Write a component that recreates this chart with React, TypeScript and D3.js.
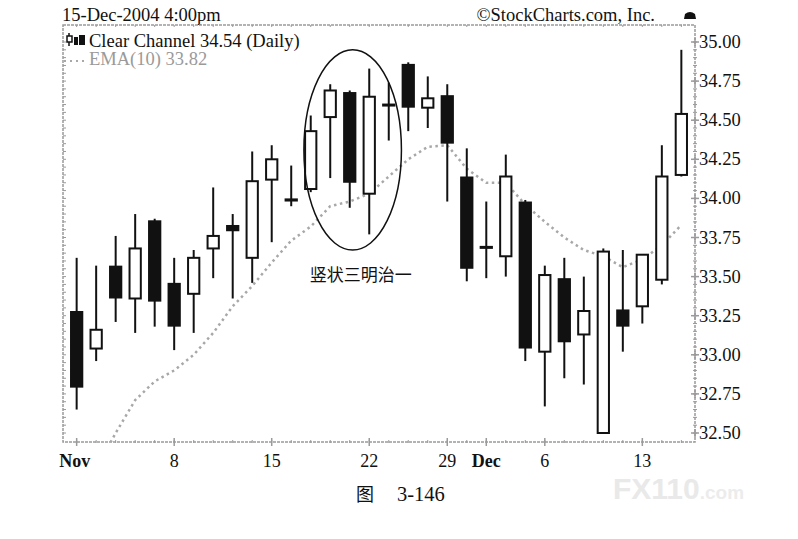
import React from 'react';
import * as d3 from 'd3';

// Daily candles, Clear Channel, Nov 1 - Dec 15 2004
const dates = [
  '2004-11-01', '2004-11-02', '2004-11-03', '2004-11-04', '2004-11-05',
  '2004-11-08', '2004-11-09', '2004-11-10', '2004-11-11', '2004-11-12',
  '2004-11-15', '2004-11-16', '2004-11-17', '2004-11-18', '2004-11-19',
  '2004-11-22', '2004-11-23', '2004-11-24', '2004-11-26',
  '2004-11-29', '2004-11-30', '2004-12-01', '2004-12-02', '2004-12-03',
  '2004-12-06', '2004-12-07', '2004-12-08', '2004-12-09', '2004-12-10',
  '2004-12-13', '2004-12-14', '2004-12-15'
];
const opens = [
  33.28, 33.04, 33.57, 33.36, 33.86,
  33.46, 33.39, 33.68, 33.83, 33.62,
  34.12, 34.00, 34.06, 34.52, 34.68,
  34.03, 34.60, 34.86, 34.58,
  34.66, 34.14, 33.69, 33.63, 33.98,
  33.02, 33.49, 33.13, 32.50, 33.29,
  33.31, 33.48, 34.15
];
const highs = [
  33.62, 33.57, 33.76, 33.90, 33.87,
  33.62, 33.67, 34.07, 33.90, 34.30,
  34.34, 34.21, 34.53, 34.73, 34.69,
  34.83, 34.74, 34.87, 34.78,
  34.73, 34.32, 33.98, 34.28, 33.99,
  33.57, 33.62, 33.50, 33.68, 33.67,
  33.64, 34.34, 34.95
];
const lows = [
  32.65, 32.96, 33.21, 33.14, 33.18,
  33.03, 33.14, 33.49, 33.36, 33.46,
  33.72, 33.95, 34.04, 34.13, 33.94,
  33.77, 34.37, 34.43, 34.45,
  33.98, 33.47, 33.49, 33.50, 32.96,
  32.67, 32.85, 32.81, 32.50, 33.02,
  33.20, 33.45, 34.14
];
const closes = [
  32.79, 33.16, 33.36, 33.68, 33.34,
  33.18, 33.62, 33.76, 33.79, 34.11,
  34.25, 33.98, 34.43, 34.69, 34.10,
  34.65, 34.59, 34.58, 34.64,
  34.35, 33.55, 33.68, 34.14, 33.04,
  33.51, 33.08, 33.28, 33.66, 33.18,
  33.64, 34.14, 34.54
];
const ema10: (number | null)[] = [
  null, 32.27, 32.50, 32.71, 32.83,
  32.90, 33.00, 33.14, 33.31, 33.44,
  33.59, 33.73, 33.82, 33.95, 33.98,
  34.03, 34.14, 34.25, 34.33,
  34.34, 34.19, 34.10, 34.10, 33.96,
  33.85, 33.75, 33.67, 33.63, 33.56,
  33.61, 33.70, 33.83
];

const priceTicks = [32.5, 32.75, 33, 33.25, 33.5, 33.75, 34, 34.25, 34.5, 34.75, 35];
const tickDates = ['2004-11-01', '2004-11-08', '2004-11-15', '2004-11-22', '2004-11-29', '2004-12-01', '2004-12-06', '2004-12-13'];
const tickTexts = ['Nov', '8', '15', '22', '29', 'Dec', '6', '13'];

const serif = '"Liberation Serif", "Times New Roman", serif';
const cjk = '"Noto Sans CJK SC", sans-serif';

const App: React.FC = () => {
  const width = 798;
  const height = 539;
  const frame = { left: 63, top: 25, right: 695, bottom: 442 };

  const x = d3.scalePoint<string>()
    .domain(dates)
    .range([frame.left, frame.right])
    .padding(0.7);
  const y = d3.scaleLinear().domain([32.5, 35]).range([433, 42]);

  const step = x.step();
  const bodyW = step * 0.68;
  const fmt = d3.format('.2f');

  const minor = y.ticks(50);

  const emaLine = d3.line<number | null>()
    .defined(d => d != null)
    .x((_, i) => x(dates[i])!)
    .y(d => y(d as number));

  // annotation ellipse around the stick sandwich
  const ecx = x(dates[14])! + step * 0.15;
  const ecy = y(34.31);
  const erx = step * 2.5;
  const ery = (y(33.67) - y(34.95)) / 2;

  const gray = '#9a9a9a';

  return (
    <div style={{ position: 'absolute', left: 0, top: 0 }}>
      <svg width={width} height={height} style={{ display: 'block', background: '#fff' }}>
        <defs>
          <clipPath id="plot">
            <rect x={frame.left} y={frame.top} width={frame.right - frame.left} height={frame.bottom - frame.top} />
          </clipPath>
        </defs>

        {/* header */}
        <text x={62} y={21} fontFamily={serif} fontSize={18.5} fill="#111">15-Dec-2004 4:00pm</text>
        <text x={655} y={21} textAnchor="end" fontFamily={serif} fontSize={18.5} fill="#111">©StockCharts.com, Inc.</text>
        <path d="M684,19 L685,14 Q690,10 695,14 L696,19 Z" fill="#111" />

        {/* frame */}
        <rect x={frame.left} y={frame.top} width={frame.right - frame.left} height={frame.bottom - frame.top}
          fill="none" stroke={gray} strokeWidth={1.5} strokeDasharray="3 1" />

        {/* left / right minor ticks */}
        {minor.map(v => (
          <g key={'m' + v} stroke={gray} strokeWidth={1}>
            <line x1={frame.left} x2={frame.left + 3} y1={y(v)} y2={y(v)} />
            <line x1={frame.right - 2} x2={frame.right + 2} y1={y(v)} y2={y(v)} />
          </g>
        ))}
        {priceTicks.map(v => (
          <g key={'M' + v}>
            <line x1={frame.right - 4} x2={frame.right + 4} y1={y(v)} y2={y(v)} stroke={gray} strokeWidth={1.5} />
            <line x1={frame.right} x2={frame.right} y1={y(v) - 4} y2={y(v) + 4} stroke={gray} strokeWidth={1.5} />
            <text x={699} y={y(v) + 6} fontFamily={serif} fontSize={18.5} fill="#111">{fmt(v)}</text>
          </g>
        ))}

        {/* bottom/top day ticks */}
        {dates.map(d => (
          <g key={'t' + d} stroke={gray} strokeWidth={1}>
            <line x1={x(d)} x2={x(d)} y1={frame.bottom - 2} y2={frame.bottom + 1} />
            <line x1={x(d)} x2={x(d)} y1={frame.top} y2={frame.top + 2} />
          </g>
        ))}
        {tickDates.map((d, i) => {
          const bold = isNaN(Number(tickTexts[i]));
          return (
            <g key={'x' + d}>
              <line x1={x(d)} x2={x(d)} y1={frame.bottom - 4} y2={frame.bottom + 4} stroke={gray} strokeWidth={1.5} />
              <text x={x(d)! - (i === 0 ? 2 : 0)} y={467} textAnchor="middle" fontFamily={serif} fontSize={18}
                fontWeight={bold ? 'bold' : 'normal'} fill="#111">{tickTexts[i]}</text>
            </g>
          );
        })}

        {/* EMA(10) */}
        <g clipPath="url(#plot)">
          <path d={emaLine(ema10) || ''} fill="none" stroke="#a8a8a8" strokeWidth={2.5} strokeDasharray="2.5 3.5" />
        </g>

        {/* candles */}
        {dates.map((d, i) => {
          const cx = x(d)!;
          const o = opens[i];
          const c = closes[i];
          const up = c > o;
          const top = y(Math.max(o, c));
          const bot = y(Math.min(o, c));
          const h = Math.max(bot - top, 3);
          return (
            <g key={d}>
              <line x1={cx} x2={cx} y1={y(highs[i])} y2={y(lows[i])} stroke="#111" strokeWidth={2} />
              {up ? (
                <rect x={cx - bodyW / 2 + 1} y={top} width={bodyW - 2} height={h} fill="#fff" stroke="#111" strokeWidth={2} />
              ) : (
                <rect x={cx - bodyW / 2} y={top - (h > bot - top ? 1 : 0)} width={bodyW} height={h} fill="#111" />
              )}
            </g>
          );
        })}

        {/* legend */}
        <g>
          <line x1={69} x2={69} y1={33} y2={46} stroke="#111" strokeWidth={1.5} />
          <rect x={67} y={36} width={5} height={6} fill="#fff" stroke="#111" strokeWidth={1.5} />
          <rect x={74} y={37} width={4} height={8} fill="#111" />
          <rect x={79} y={35} width={6} height={10} fill="#111" />
          <text x={89} y={47} fontFamily={serif} fontSize={18.5} fill="#111">Clear Channel 34.54 (Daily)</text>
          <line x1={64} x2={88} y1={61} y2={61} stroke="#a8a8a8" strokeWidth={2} strokeDasharray="2 4" />
          <text x={89} y={65} fontFamily={serif} fontSize={18.5} fill={gray}>EMA(10) 33.82</text>
        </g>

        {/* annotation */}
        <ellipse cx={ecx} cy={ecy} rx={erx} ry={ery} fill="none" stroke="#111" strokeWidth={1.5} />
        <text x={ecx + 8} y={281} textAnchor="middle" fontFamily={cjk} fontSize={17} fill="#111">竖状三明治一</text>

        {/* caption */}
        <text x={356} y={501} fontFamily={cjk} fontSize={18} fill="#111">图</text>
        <text x={397} y={501} fontFamily={serif} fontSize={20.5} fill="#111">3-146</text>

        {/* watermark */}
        <text x={613} y={499} fontFamily='"Liberation Sans", Arial, sans-serif' fontWeight="bold" fill="#e9e9e9">
          <tspan fontSize={30}>FX110</tspan>
          <tspan fontSize={19} fill="#ececec">.com</tspan>
        </text>
      </svg>
    </div>
  );
};

export default App;
